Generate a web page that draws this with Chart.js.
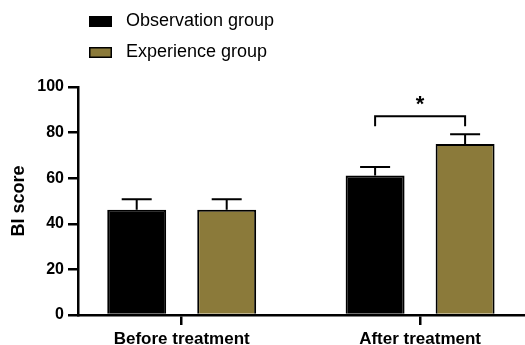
<!DOCTYPE html>
<html>
<head>
<meta charset="utf-8">
<script src="https://cdn.jsdelivr.net/npm/chart.js@4.4.1/dist/chart.umd.min.js"></script>
<style>
  html, body { margin: 0; padding: 0; background: #fff; }
  #wrap { width: 525px; height: 345px; position: relative; }
</style>
</head>
<body>
<div id="wrap"><canvas id="c" width="525" height="345"></canvas></div>
<script>
// ---- data ----
const categories = ['Before treatment', 'After treatment'];
const seriesNames = ['Observation group', 'Experience group'];
const observationMean = [46.2, 61.2];
const observationSD = [4.6, 3.7];
const experienceMean = [46.2, 75.0];
const experienceSD = [4.6, 4.3];
const yTicks = [0, 20, 40, 60, 80, 100];
const significance = [{ category: 1, label: '*' }];

const FONT = 'Arial, "Liberation Sans", Helvetica, sans-serif';
const OLIVE = '#8b7a3a';

function toPoints(vals) { return vals.map((v, i) => ({ x: i + 1, y: v })); }

const errorBarPlugin = {
  id: 'errorBars',
  afterDatasetsDraw(chart) {
    const ctx = chart.ctx;
    const y = chart.scales.y;
    chart.data.datasets.forEach((ds, di) => {
      const meta = chart.getDatasetMeta(di);
      meta.data.forEach((el, i) => {
        const top = y.getPixelForValue(ds.data[i].y + ds.sd[i]);
        ctx.save();
        ctx.strokeStyle = '#000';
        ctx.lineWidth = 2;
        ctx.beginPath();
        ctx.moveTo(el.x, el.y);
        ctx.lineTo(el.x, top);
        ctx.moveTo(el.x - 15, top);
        ctx.lineTo(el.x + 15, top);
        ctx.stroke();
        ctx.restore();
      });
    });
    // significance bracket
    significance.forEach(s => {
      const m0 = chart.getDatasetMeta(0).data[s.category];
      const m1 = chart.getDatasetMeta(1).data[s.category];
      let maxV = 0;
      chart.data.datasets.forEach(ds => { maxV = Math.max(maxV, ds.data[s.category].y + ds.sd[s.category]); });
      const base = y.getPixelForValue(maxV);
      const legBottom = base - 8;
      const barY = base - 18;
      ctx.save();
      ctx.strokeStyle = '#000';
      ctx.lineWidth = 2;
      ctx.beginPath();
      ctx.moveTo(m0.x, legBottom);
      ctx.lineTo(m0.x, barY);
      ctx.lineTo(m1.x, barY);
      ctx.lineTo(m1.x, legBottom);
      ctx.stroke();
      ctx.fillStyle = '#000';
      ctx.font = 'bold 22px ' + FONT;
      ctx.textAlign = 'center';
      ctx.textBaseline = 'middle';
      ctx.fillText(s.label, (m0.x + m1.x) / 2, barY - 11);
      ctx.restore();
    });
  }
};

const customLegend = {
  id: 'customLegend',
  afterDraw(chart) {
    const ctx = chart.ctx;
    chart.data.datasets.forEach((ds, i) => {
      const cy = 21.5 + i * 31;
      ctx.save();
      ctx.fillStyle = ds.backgroundColor;
      ctx.fillRect(89, cy - 5.5, 23, 11);
      ctx.strokeStyle = '#000';
      ctx.lineWidth = 1.5;
      ctx.strokeRect(89.75, cy - 4.75, 21.5, 9.5);
      ctx.fillStyle = '#000';
      ctx.font = '18px ' + FONT;
      ctx.textAlign = 'left';
      ctx.textBaseline = 'middle';
      ctx.fillText(ds.label, 126, cy);
      ctx.restore();
    });
  }
};

new Chart(document.getElementById('c'), {
  type: 'bar',
  data: {
    datasets: [
      { label: seriesNames[0], data: toPoints(observationMean), sd: observationSD,
        backgroundColor: '#000000', borderColor: '#000000', borderWidth: 2 },
      { label: seriesNames[1], data: toPoints(experienceMean), sd: experienceSD,
        backgroundColor: OLIVE, borderColor: '#000000', borderWidth: 2 }
    ]
  },
  options: {
    responsive: false,
    animation: false,
    devicePixelRatio: 1,
    categoryPercentage: 0.755,
    barPercentage: 0.655,
    layout: { padding: { top: 87, right: 0, left: 0, bottom: 0 } },
    plugins: { legend: { display: false }, tooltip: { enabled: false } },
    scales: {
      x: {
        type: 'linear',
        offset: false,
        min: 0.565,
        max: 2.44,
        afterBuildTicks(scale) { scale.ticks = categories.map((c, i) => ({ value: i + 1 })); },
        afterFit(scale) { scale.height = 30; },
        ticks: {
          callback: (v) => categories[v - 1] || '',
          color: '#000',
          font: { family: FONT, size: 17, weight: 'bold' },
          padding: 4,
          maxRotation: 0,
          autoSkip: false
        },
        grid: { display: true, offset: false, drawOnChartArea: false, drawTicks: true, tickLength: 10, color: '#000', lineWidth: 2.5 },
        border: { display: true, color: '#000', width: 2.5 }
      },
      y: {
        min: 0,
        max: 100,
        afterBuildTicks(scale) { scale.ticks = yTicks.map(v => ({ value: v })); },
        afterFit(scale) { scale.width = 78; },
        ticks: {
          color: '#000',
          font: { family: FONT, size: 16, weight: 'bold' },
          padding: 4
        },
        title: {
          display: true,
          text: 'BI score',
          color: '#000',
          font: { family: FONT, size: 18, weight: 'bold' },
          padding: { top: 8, bottom: 0 }
        },
        grid: { display: true, drawOnChartArea: false, drawTicks: true, tickLength: 10, color: '#000', lineWidth: 2.5 },
        border: { display: true, color: '#000', width: 2.5 }
      }
    }
  },
  plugins: [errorBarPlugin, customLegend]
});
</script>
</body>
</html>
